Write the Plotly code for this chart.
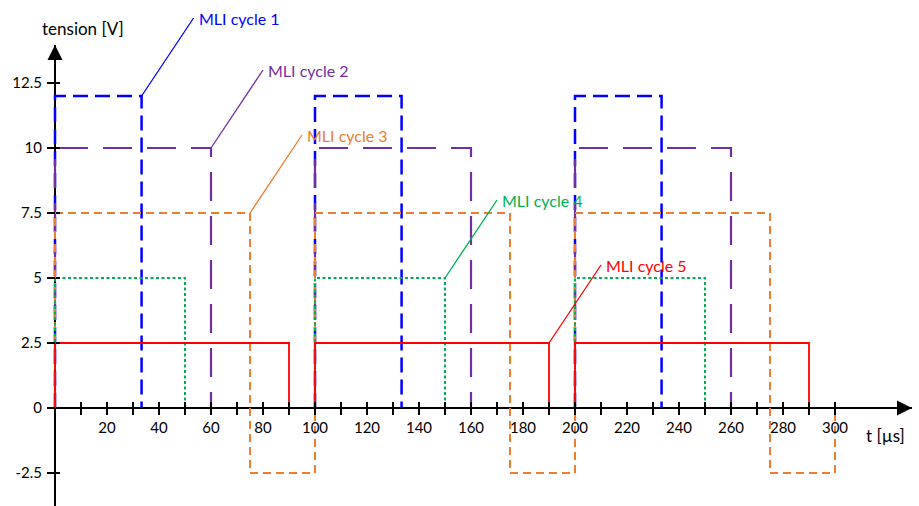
import plotly.graph_objects as go

# ---- data ----
cycle1_t = [0, 0, 33.3, 33.3, None, 100, 100, 133.3, 133.3, None, 200, 200, 233.3, 233.3]
cycle1_v = [0, 12, 12, 0, None, 0, 12, 12, 0, None, 0, 12, 12, 0]

cycle2_t = [0, 0, 60, 60, None, 100, 100, 160, 160, None, 200, 200, 260, 260]
cycle2_v = [0, 10, 10, 0, None, 0, 10, 10, 0, None, 0, 10, 10, 0]

cycle3_t = [0, 0, 75, 75, 100, 100, 175, 175, 200, 200, 275, 275, 300, 300]
cycle3_v = [0, 7.5, 7.5, -2.5, -2.5, 7.5, 7.5, -2.5, -2.5, 7.5, 7.5, -2.5, -2.5, 0]

cycle4_t = [0, 0, 50, 50, None, 100, 100, 150, 150, None, 200, 200, 250, 250]
cycle4_v = [0, 5, 5, 0, None, 0, 5, 5, 0, None, 0, 5, 5, 0]

cycle5_t = [0, 0, 90, 90, None, 100, 100, 190, 190, None, 200, 200, 290, 290]
cycle5_v = [0, 2.5, 2.5, 0, None, 0, 2.5, 2.5, 0, None, 0, 2.5, 2.5, 0]

series_names = ["MLI cycle 1", "MLI cycle 2", "MLI cycle 3", "MLI cycle 4", "MLI cycle 5"]
label_points_t = [33.3, 60, 75, 150, 190]
label_points_v = [12, 10, 7.5, 5, 2.5]

x_tick_vals = list(range(10, 301, 10))
x_tick_text = [str(v) if v % 20 == 0 else "" for v in x_tick_vals]
y_tick_vals = [-2.5, 0, 2.5, 5, 7.5, 10, 12.5]
y_tick_text = ["-2.5", "0", "2.5", "5", "7.5", "10", "12.5"]

# ---- styling ----
colors = ["#0000FF", "#7030A0", "#ED7D31", "#00B050", "#FF0000"]
dashes = ["15px,7px", "29px,15px", "8px,5px", "3px,2.5px", "solid"]
widths = [2.5, 2.2, 2.0, 2.0, 1.8]
FONT = "Lato"

W, H = 919, 506
x0px, y0px = 55, 408          # pixel of origin
sx, sy = 2.6, 26.0            # px per unit
ml, mr, mt, mb = 52, 7, 45, 0
xmin = -(x0px - ml) / sx
xmax = (W - mr - x0px) / sx
ymax = (y0px - mt) / sy
ymin = -(H - mb - y0px) / sy
xpos = (0 - ymin) / (ymax - ymin)
ypos = (0 - xmin) / (xmax - xmin)
PW, PH = W - ml - mr, H - mt - mb


def px_to_paper(px, py):
    return (px - ml) / PW, (H - mb - py) / PH


fig = go.Figure()
all_t = [cycle1_t, cycle2_t, cycle3_t, cycle4_t, cycle5_t]
all_v = [cycle1_v, cycle2_v, cycle3_v, cycle4_v, cycle5_v]
for name, t, v, c, d, w in zip(series_names, all_t, all_v, colors, dashes, widths):
    fig.add_trace(go.Scatter(x=t, y=v, mode="lines", name=name,
                             line=dict(color=c, dash=d, width=w),
                             showlegend=False, hoverinfo="skip"))

# axis arrowheads
fig.add_trace(go.Scatter(x=[0], y=[ymax], mode="markers",
                         marker=dict(symbol="arrow-up", size=15, color="black"),
                         cliponaxis=False, showlegend=False, hoverinfo="skip"))
fig.add_trace(go.Scatter(x=[xmax], y=[0], mode="markers",
                         marker=dict(symbol="arrow-right", size=15, color="black"),
                         cliponaxis=False, showlegend=False, hoverinfo="skip"))
# dummy trace for secondary (inner tick) axes
fig.add_trace(go.Scatter(x=[None], y=[None], xaxis="x2", yaxis="y2",
                         showlegend=False, hoverinfo="skip"))

tickfont = dict(family=FONT, size=15, color="black")
fig.update_layout(
    template="none",
    width=W, height=H,
    margin=dict(l=ml, r=mr, t=mt, b=mb, autoexpand=False),
    plot_bgcolor="white", paper_bgcolor="white",
    hovermode=False,
    xaxis=dict(range=[xmin, xmax], anchor="free", position=xpos, automargin=False,
               showgrid=False, showline=False,
               zeroline=True, zerolinecolor="black", zerolinewidth=2.5,
               tickmode="array", tickvals=x_tick_vals, ticktext=x_tick_text,
               ticks="outside", ticklen=6, tickwidth=1.5, tickcolor="black",
               tickfont=tickfont, ticklabelstandoff=0),
    xaxis2=dict(matches="x", overlaying="x", anchor="free", position=xpos, automargin=False,
                showgrid=False, showline=False, zeroline=False,
                tickmode="array", tickvals=x_tick_vals,
                ticks="inside", ticklen=6, tickwidth=1.5, tickcolor="black",
                showticklabels=False),
    yaxis=dict(range=[ymin, ymax], anchor="free", position=ypos, automargin=False,
               showgrid=False, showline=False,
               zeroline=True, zerolinecolor="black", zerolinewidth=2.5,
               tickmode="array", tickvals=y_tick_vals, ticktext=y_tick_text,
               ticks="outside", ticklen=8, tickwidth=1.5, tickcolor="black",
               tickfont=tickfont, ticklabelstandoff=2),
    yaxis2=dict(matches="y", overlaying="y", anchor="free", position=ypos, automargin=False,
                side="left", showgrid=False, showline=False, zeroline=False,
                tickmode="array", tickvals=y_tick_vals,
                ticks="inside", ticklen=4, tickwidth=1.5, tickcolor="black",
                showticklabels=False),
)

annotations = []
for name, t, v, c in zip(series_names, label_points_t, label_points_v, colors):
    annotations.append(dict(x=t, y=v, xref="x", yref="y", text=name,
                            showarrow=True, arrowhead=0, arrowwidth=1.3,
                            arrowcolor=c, ax=52, ay=-78, borderpad=4,
                            xanchor="left", yanchor="middle",
                            font=dict(family=FONT, size=16, color=c)))
tx, ty = px_to_paper(83, 29)
annotations.append(dict(x=tx, y=ty, xref="paper", yref="paper",
                        text="tension [V]", showarrow=False,
                        xanchor="center", yanchor="middle",
                        font=dict(family=FONT, size=17, color="black")))
ux, uy = px_to_paper(885, 435)
annotations.append(dict(x=ux, y=uy, xref="paper", yref="paper",
                        text="t [µs]", showarrow=False,
                        xanchor="center", yanchor="middle",
                        font=dict(family=FONT, size=17, color="black")))
fig.update_layout(annotations=annotations)

fig.write_html("out.html",
               config={"displayModeBar": False, "staticPlot": True},
               post_script="document.body.style.margin='0';document.body.style.padding='0';")
